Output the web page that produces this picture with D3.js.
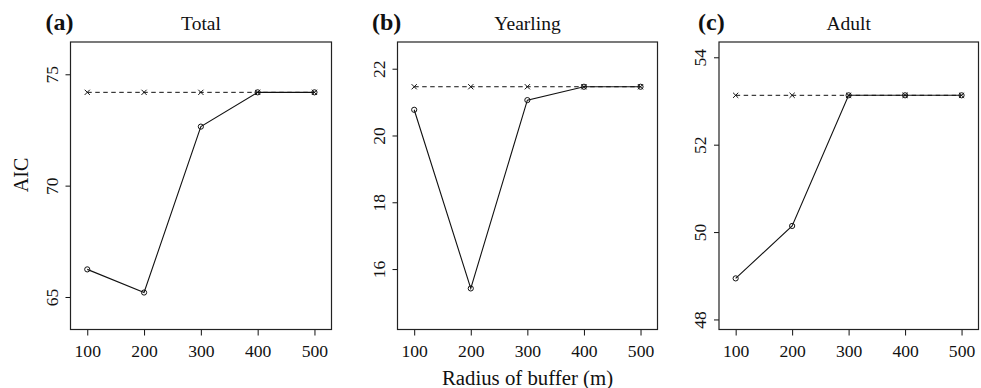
<!DOCTYPE html>
<html>
<head>
<meta charset="utf-8">
<script src="https://cdn.jsdelivr.net/npm/d3@7"></script>
<style>
  body { margin: 0; background: #fff; }
  svg text { font-family: "Liberation Serif", "Times New Roman", Times, "DejaVu Serif", serif; fill: #111; }
</style>
</head>
<body>
<div id="chart"></div>
<script>
// data
const radius = [100, 200, 300, 400, 500];
const xTicks = [100, 200, 300, 400, 500];

const panelLetters = ["(a)", "(b)", "(c)"];
const panelTitles = ["Total", "Yearling", "Adult"];

// solid line with open circles (model with buffer)
const totalModel = [66.24, 65.2, 72.65, 74.19, 74.19];
const yearlingModel = [20.77, 15.42, 21.06, 21.46, 21.46];
const adultModel = [48.94, 50.14, 53.13, 53.13, 53.13];

// dashed line with crosses (reference model)
const totalNull = [74.19, 74.19, 74.19, 74.19, 74.19];
const yearlingNull = [21.46, 21.46, 21.46, 21.46, 21.46];
const adultNull = [53.13, 53.13, 53.13, 53.13, 53.13];

const totalTicks = [65, 70, 75];
const yearlingTicks = [16, 18, 20, 22];
const adultTicks = [48, 50, 52, 54];

const totalDomain = [63.54, 76.45];
const yearlingDomain = [14.19, 22.8];
const adultDomain = [47.77, 54.35];

const W = 981, H = 388;
const plotTop = 42, plotBottom = 329.5;
const serif = '"Liberation Serif", "Times New Roman", Times, "DejaVu Serif", serif';

const panels = [
    {left: 70.5, right: 331.5, letterDx: -25, model: totalModel, base: totalNull, ticks: totalTicks, domain: totalDomain},
    {left: 397.5, right: 657.5, letterDx: -25.5, model: yearlingModel, base: yearlingNull, ticks: yearlingTicks, domain: yearlingDomain},
    {left: 719, right: 978.5, letterDx: -21, model: adultModel, base: adultNull, ticks: adultTicks, domain: adultDomain}
];

const svg = d3.select("#chart")
    .append("svg")
    .attr("width", W)
    .attr("height", H)
    .style("font-family", serif);

panels.forEach(function(p, i) {

    var x = d3.scaleLinear()
        .domain([70.5, 530])
        .range([p.left, p.right]);

    var y = d3.scaleLinear()
        .domain(p.domain)
        .range([plotBottom, plotTop]);

    var g = svg.append("g");

    // x axis
    var xa = g.append("g")
        .attr("transform", "translate(0," + plotBottom + ")")
        .call(d3.axisBottom(x).tickValues(xTicks).tickSize(6).tickFormat(d3.format("d")));
    xa.attr("font-family", null);
    xa.select(".domain").remove();
    xa.selectAll(".tick line").attr("stroke", "#111");
    xa.selectAll(".tick text")
        .attr("y", 27)
        .attr("dy", null)
        .style("font-size", "17.6px")
        .style("font-family", serif);

    // y axis, labels rotated like base R
    var ya = g.append("g")
        .attr("transform", "translate(" + p.left + ",0)")
        .call(d3.axisLeft(y).tickValues(p.ticks).tickSize(5).tickFormat(d3.format("d")));
    ya.attr("font-family", null);
    ya.select(".domain").remove();
    ya.selectAll(".tick line").attr("stroke", "#111");
    ya.selectAll(".tick text")
        .attr("x", null)
        .attr("dy", null)
        .attr("text-anchor", "middle")
        .attr("transform", "translate(-13,0) rotate(-90)")
        .style("font-size", "17.6px")
        .style("font-family", serif);

    // box
    g.append("rect")
        .attr("x", p.left)
        .attr("y", plotTop)
        .attr("width", p.right - p.left)
        .attr("height", plotBottom - plotTop)
        .attr("fill", "none")
        .attr("stroke", "#222")
        .attr("stroke-width", 1.2);

    // dashed reference line
    var line = d3.line()
        .x(function(d, j) { return x(radius[j]); })
        .y(function(d) { return y(d); });

    g.append("path")
        .datum(p.base)
        .attr("d", line)
        .attr("fill", "none")
        .attr("stroke", "#111")
        .attr("stroke-width", 1)
        .attr("stroke-dasharray", "4.5,3.5");

    // crosses
    g.selectAll(".cross")
        .data(p.base)
        .enter()
        .append("path")
        .attr("class", "cross")
        .attr("transform", function(d, j) { return "translate(" + x(radius[j]) + "," + y(d) + ")"; })
        .attr("d", "M-2.6,-2.6L2.6,2.6M-2.6,2.6L2.6,-2.6")
        .attr("stroke", "#111")
        .attr("stroke-width", 1);

    // solid model line
    g.append("path")
        .datum(p.model)
        .attr("d", line)
        .attr("fill", "none")
        .attr("stroke", "#111")
        .attr("stroke-width", 1.1);

    // open circles
    g.selectAll(".pt")
        .data(p.model)
        .enter()
        .append("circle")
        .attr("class", "pt")
        .attr("cx", function(d, j) { return x(radius[j]); })
        .attr("cy", function(d) { return y(d); })
        .attr("r", 2.6)
        .attr("fill", "none")
        .attr("stroke", "#111")
        .attr("stroke-width", 1);

    // titles
    g.append("text")
        .attr("x", (p.left + p.right) / 2)
        .attr("y", 30)
        .attr("text-anchor", "middle")
        .style("font-size", "19.5px")
        .text(panelTitles[i]);

    g.append("text")
        .attr("x", p.left + p.letterDx)
        .attr("y", 29.5)
        .style("font-size", "24px")
        .style("font-weight", "bold")
        .text(panelLetters[i]);
});

// axis labels
svg.append("text")
    .attr("transform", "translate(28,175) rotate(-90)")
    .attr("text-anchor", "middle")
    .style("font-size", "20px")
    .text("AIC");

svg.append("text")
    .attr("x", 527.5)
    .attr("y", 385)
    .attr("text-anchor", "middle")
    .style("font-size", "20.8px")
    .text("Radius of buffer (m)");
</script>
</body>
</html>
